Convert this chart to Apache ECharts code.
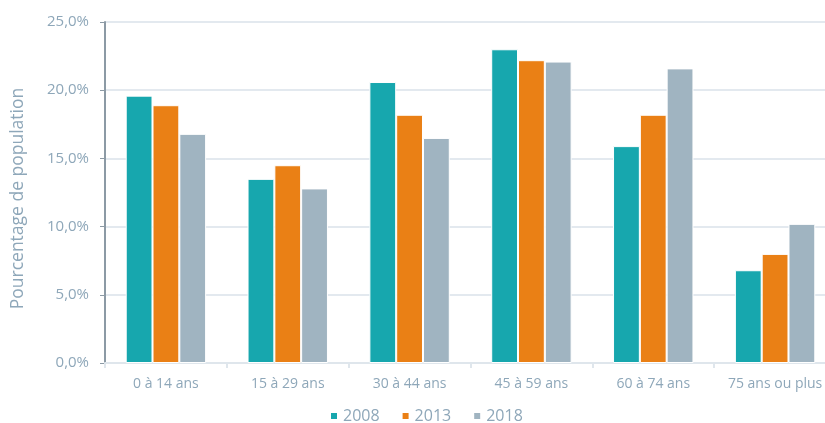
<!DOCTYPE html>
<html>
<head>
<meta charset="utf-8">
<script src="https://cdn.jsdelivr.net/npm/echarts@6/dist/echarts.min.js"></script>
<style>
  html, body { margin: 0; padding: 0; background: #ffffff; overflow: hidden; }
  #chart { width: 840px; height: 423px; }
</style>
</head>
<body>
<div id="chart"></div>
<script>
// Age groups on the category axis
const categories = ['0 à 14 ans', '15 à 29 ans', '30 à 44 ans', '45 à 59 ans', '60 à 74 ans', '75 ans ou plus'];
// Share of population (%) per age group, by census year
const years = ['2008', '2013', '2018'];
const values2008 = [19.6, 13.5, 20.6, 23.0, 15.9, 6.8];
const values2013 = [18.9, 14.5, 18.2, 22.2, 18.2, 8.0];
const values2018 = [16.8, 12.8, 16.5, 22.1, 21.6, 10.2];
// Value axis ticks
const yTicks = [0, 5, 10, 15, 20, 25];

const colors = ['#17a7ae', '#ea8015', '#a0b4c1'];
const textColor = '#8ea7b9';
const font = '"Open Sans", "Noto Sans", sans-serif';

const chart = echarts.init(document.getElementById('chart'), null, { renderer: 'canvas' });

const seriesData = [values2008, values2013, values2018];

chart.setOption({
  animation: false,
  color: colors,
  textStyle: { fontFamily: font },
  // plot area runs slightly past the visible right edge
  grid: { left: 105, top: 22, width: 731, height: 341, containLabel: false },
  legend: {
    data: years,
    top: 403,
    left: 324,
    itemWidth: 8,
    itemHeight: 8,
    itemGap: 21,
    icon: 'rect',
    textStyle: { color: textColor, fontSize: 16, fontFamily: font }
  },
  xAxis: {
    type: 'category',
    data: categories,
    boundaryGap: true,
    axisLine: { lineStyle: { color: '#dfe6ec', width: 2 } },
    axisTick: { show: true, length: 5, lineStyle: { color: '#dfe6ec', width: 2 } },
    axisLabel: { color: textColor, fontSize: 14, margin: 14, fontFamily: font, interval: 0, hideOverlap: false }
  },
  yAxis: {
    type: 'value',
    min: yTicks[0],
    max: yTicks[yTicks.length - 1],
    interval: 5,
    name: 'Pourcentage de population',
    nameLocation: 'middle',
    nameGap: 78,
    nameTextStyle: { color: textColor, fontSize: 17.5, fontFamily: font, padding: [0, 12, 0, 0] },
    axisLine: { show: true, lineStyle: { color: '#8c9aa5', width: 2 } },
    axisTick: { show: true, length: 5, lineStyle: { color: '#8c9aa5', width: 1 } },
    axisLabel: {
      color: textColor,
      fontSize: 15,
      margin: 16,
      fontFamily: font,
      formatter: v => v.toFixed(1).replace('.', ',') + '%'
    },
    splitLine: { show: true, lineStyle: { color: '#e3e9ef', width: 2 } }
  },
  series: years.map((y, i) => ({
    name: y,
    type: 'bar',
    data: seriesData[i],
    barGap: '0%',
    barCategoryGap: '34%',
    itemStyle: { color: colors[i], borderColor: '#ffffff', borderWidth: 1 }
  }))
});
</script>
</body>
</html>
